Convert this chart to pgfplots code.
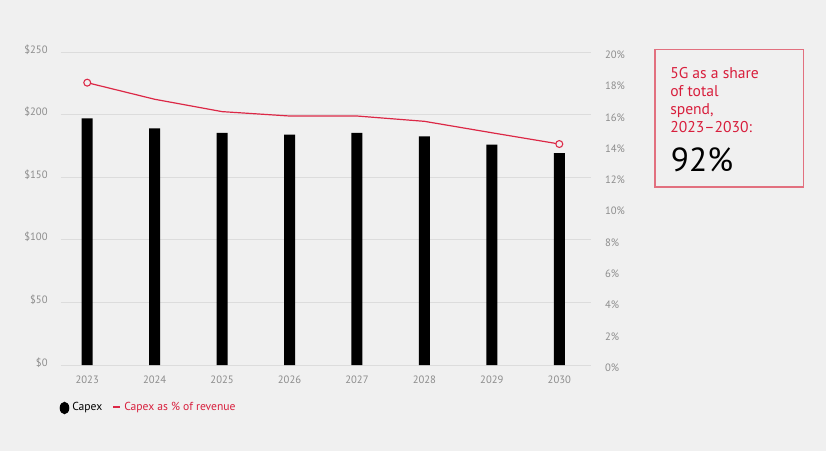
\documentclass[border=0pt]{standalone}
\usepackage{fontspec}
\setmainfont{PT Sans}
\usepackage{pgfplots}
\usepackage{pgfplotstable}
\pgfplotsset{compat=1.18}

\definecolor{bg}{HTML}{F0F0F0}
\definecolor{redline}{HTML}{DC2846}
\definecolor{redtext}{HTML}{D81E3C}
\definecolor{boxred}{HTML}{E2707F}
\definecolor{ticktext}{HTML}{8C8C8C}
\definecolor{gridc}{HTML}{DCDCDC}

% capex in $bn, pct = capex as % of revenue
\pgfplotstableread{
x capex pct
0 197.0 18.04
1 189.0 16.98
2 185.5 16.19
3 184.0 15.91
4 185.4 15.91
5 182.6 15.57
6 176.0 14.84
7 169.3 14.12
}\capexdata

\def\p{0.75pt}

\pgfplotsset{
  base/.style={
    at={(61*\p,86*\p)}, anchor=south west,
    scale only axis, width=397.5pt, height=234.75pt,
    xmin=-0.389, xmax=7.47,
    axis line style={draw=none},
    major tick length=0,
    tick label style={font=\fontsize{8}{9}\selectfont, text=ticktext},
    /pgf/number format/assume math mode=true,
  }
}

\begin{document}
\begin{tikzpicture}
\fill[bg] (0,0) rectangle (826*\p,451*\p);

\begin{axis}[base,
    ymin=0, ymax=250,
    ytick={0,50,...,250},
    yticklabels={\$0,\$50,\$100,\$150,\$200,\$250},
    yticklabel style={xshift=-6.5pt, yshift=2pt},
    xtick={0,...,7},
    xticklabels={2023,2024,2025,2026,2027,2028,2029,2030},
    xticklabel style={yshift=-5pt},
    ymajorgrids, grid style={gridc, line width=0.6pt},
    axis y line*=left, axis x line*=bottom,
]
\addplot[ybar, bar width=8.25pt, fill=black, draw=none] table[x=x,y=capex]{\capexdata};
\end{axis}

\begin{axis}[base,
    ymin=0, ymax=20,
    axis y line*=right, axis x line=none,
    ytick={0,2,...,20},
    yticklabels={0\%,2\%,4\%,6\%,8\%,10\%,12\%,14\%,16\%,18\%,20\%},
    yticklabel style={xshift=7pt, yshift=-2pt},
    xtick=\empty,
]
\addplot[redline, line width=0.9pt, mark=*, mark indices={1,8},
         mark size=2.6pt, mark options={fill=bg, draw=redline, solid, line width=0.8pt}]
  table[x=x,y=pct]{\capexdata};
\end{axis}

% legend
\fill[black] (64.5*\p,32.25pt) ellipse (3.6pt and 4.7pt);
\node[anchor=west, inner sep=0, font=\fontsize{8.7}{10}\selectfont] at (72*\p,32.25pt) {Capex};
\draw[redline, line width=2pt] (113*\p,33pt) -- (120*\p,33pt);
\node[anchor=west, inner sep=0, text=redtext, font=\fontsize{8.7}{10}\selectfont] at (124*\p,32.25pt) {Capex as \% of revenue};

% callout box
\draw[boxred, line width=0.8pt] (655*\p,198pt) rectangle (803.7*\p,301.3pt);
\begin{scope}[every node/.style={anchor=base west, inner sep=0, text=redtext, font=\fontsize{11.7}{13.5}\selectfont}]
\node at (670*\p,279.5pt) {5G as a share};
\node at (670*\p,266pt) {of total};
\node at (670*\p,252.5pt) {spend,};
\node at (670*\p,239pt) {2023–2030:};
\end{scope}
\node[anchor=base west, inner sep=0, font=\fontsize{25}{30}\selectfont] at (670.7*\p,209.5pt) {92\%};
\end{tikzpicture}
\end{document}
